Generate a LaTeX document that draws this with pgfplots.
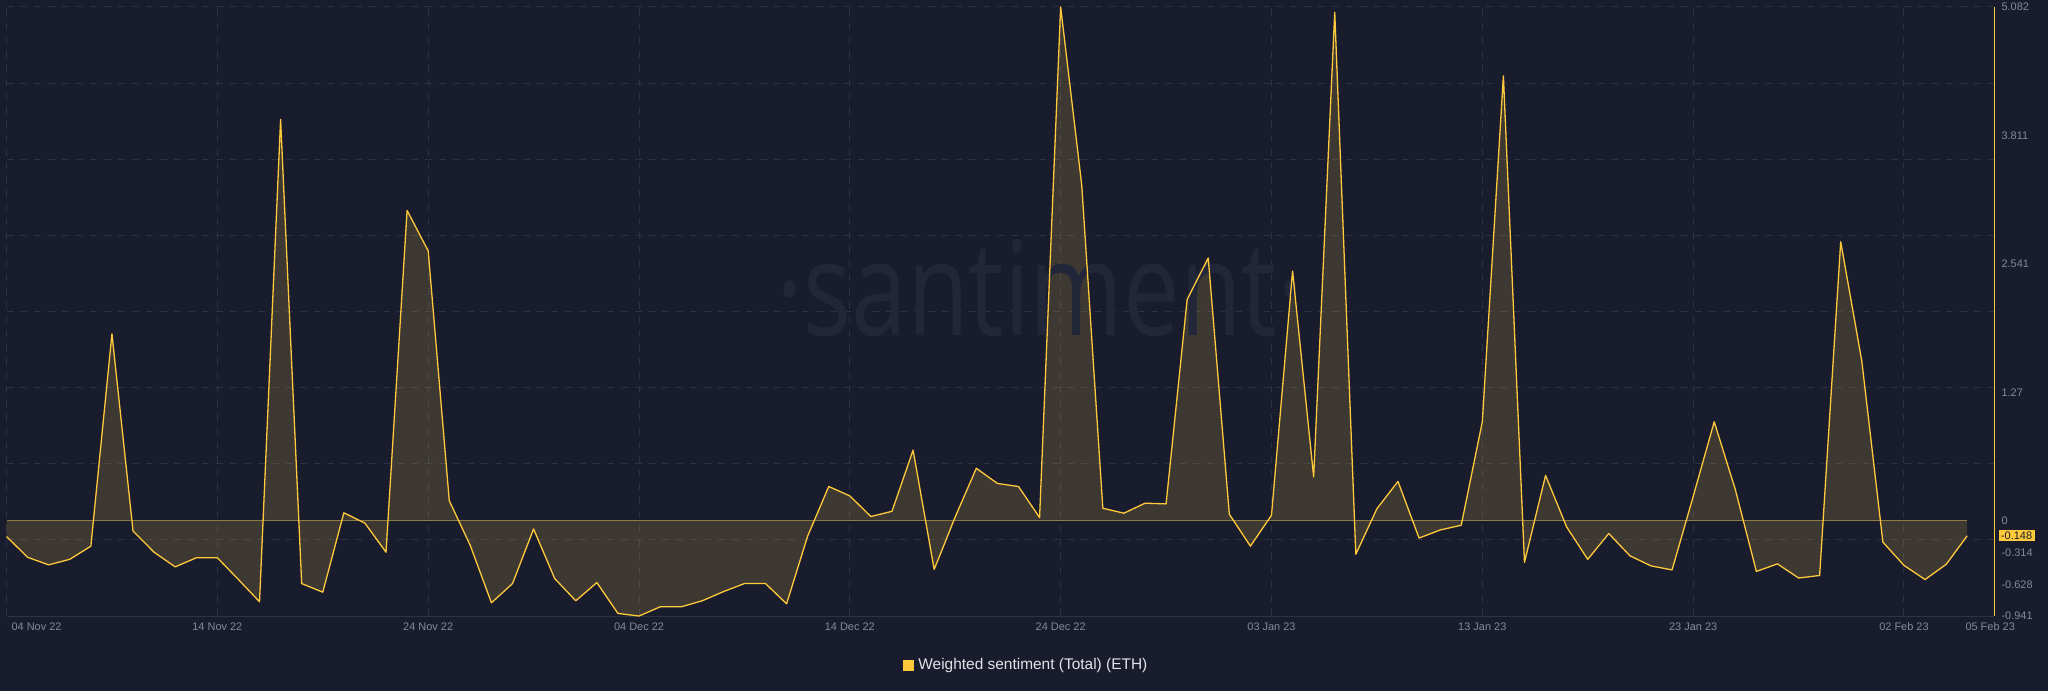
\documentclass[border=0pt]{standalone}
\usepackage{fontspec}
\setmainfont{Liberation Sans}
\newfontfamily\wmfont{Open Sans}
\usepackage{xcolor}
\usepackage{pgfplots}
\usepackage{pgfplotstable}
\pgfplotsset{compat=1.18}
\usepgfplotslibrary{fillbetween}
\definecolor{bg}{HTML}{191C2D}
\definecolor{gridc}{HTML}{2D3144}
\definecolor{axisc}{HTML}{2E3244}
\definecolor{linec}{HTML}{FFC93C}
\definecolor{fillsrc}{HTML}{FFCF4A}
\definecolor{zeroc}{HTML}{8C7B43}
\definecolor{tickc}{HTML}{858897}
\definecolor{legc}{HTML}{E2E3E8}
\definecolor{wmc}{HTML}{222639}

\pgfplotstableread{
day val
0 -0.155
1 -0.36
2 -0.435
3 -0.38
4 -0.25
5 1.85
6 -0.10
7 -0.31
8 -0.455
9 -0.365
10 -0.365
11 -0.58
12 -0.80
13 3.97
14 -0.62
15 -0.705
16 0.08
17 -0.023
18 -0.31
19 3.07
20 2.67
21 0.20
22 -0.245
23 -0.81
24 -0.62
25 -0.08
26 -0.57
27 -0.79
28 -0.61
29 -0.915
30 -0.941
31 -0.85
32 -0.85
33 -0.79
34 -0.70
35 -0.62
36 -0.62
37 -0.82
38 -0.15
39 0.34
40 0.247
41 0.043
42 0.095
43 0.70
44 -0.48
45 0.04
46 0.52
47 0.37
48 0.34
49 0.033
50 5.082
51 3.32
52 0.125
53 0.076
54 0.175
55 0.168
56 2.19
57 2.60
58 0.066
59 -0.25
60 0.056
61 2.47
62 0.435
63 5.03
64 -0.33
65 0.12
66 0.39
67 -0.17
68 -0.09
69 -0.043
70 0.98
71 4.40
72 -0.41
73 0.45
74 -0.06
75 -0.38
76 -0.125
77 -0.345
78 -0.445
79 -0.485
80 0.24
81 0.98
82 0.31
83 -0.50
84 -0.425
85 -0.565
86 -0.54
87 2.76
88 1.58
89 -0.21
90 -0.44
91 -0.58
92 -0.43
93 -0.148
}\sentiment

\begin{document}
\pagecolor{bg}
\begin{tikzpicture}
\path (0,0) rectangle (1024pt,346.5pt);
\node[anchor=base, text=wmc, inner sep=0pt] at (518.5pt,178pt)
  {\scalebox{1}[1.3]{\wmfont\fontsize{50.5}{50.5}\selectfont ·santiment·}};
\begin{axis}[
  at={(0pt,37.5pt)}, anchor=south west,
  scale only axis, width=997pt, height=305.5pt,
  xmin=0, xmax=94.28, ymin=-0.941, ymax=5.082,
  clip=false,
  axis x line*=bottom, axis y line*=right,
  x axis line style={-, draw=axisc, line width=0.5pt},
  y axis line style={-, draw=linec, line width=0.5pt},
  major tick length=0pt, minor tick length=0pt,
  xtick={0,10,...,90},
  xticklabels={{\makebox[0pt][l]{\hspace{2.5pt}04 Nov 22}},14 Nov 22,24 Nov 22,04 Dec 22,14 Dec 22,24 Dec 22,03 Jan 23,13 Jan 23,23 Jan 23,02 Feb 23},
  extra x ticks={94.09}, extra x tick labels={05 Feb 23},
  extra x tick style={grid=none},
  ytick={5.082,3.811,2.541,1.27,0,-0.314,-0.628,-0.941},
  yticklabels={5.082,3.811,2.541,1.27,0,-0.314,-0.628,-0.941},
  extra y ticks={-0.148}, extra y tick labels={-0.148},
  extra y tick style={grid=none, yticklabel style={fill=linec, text=bg, inner xsep=1.25pt, inner ysep=0.75pt, xshift=-1.5pt}},
  minor ytick={-0.941,-0.188125,0.56475,1.317625,2.0705,2.823375,3.57625,4.329125,5.082},
  xmajorgrids=true, ymajorgrids=false, yminorgrids=true,
  major grid style={gridc, dash pattern=on 3.5pt off 3.5pt, line width=0.5pt},
  minor grid style={gridc, dash pattern=on 3.5pt off 3.5pt, line width=0.5pt},
  ticklabel style={font=\fontsize{5.5}{6.5}\selectfont, text=tickc},
  xticklabel style={anchor=center, yshift=-5.5pt, inner sep=0pt},
  yticklabel pos=right,
  yticklabel style={anchor=west, inner sep=0pt, xshift=3.5pt},
  legend style={at={(axis description cs:0.5135,-0.081)}, anchor=center, draw=none, fill=none, text=legc, font=\fontsize{7.75}{9}\selectfont},
  legend image code/.code={\fill[linec] (0pt,-2.5pt) rectangle (5pt,2.5pt);},
]
\addplot[name path=data, draw=none, forget plot] table[x=day,y=val]{\sentiment};
\addplot[name path=zero, draw=none, forget plot] coordinates {(0,0) (93,0)};
\addplot[fill=fillsrc, fill opacity=0.157, draw=none, forget plot] fill between[of=data and zero];
\addplot[zeroc, line width=0.5pt, forget plot] coordinates {(0,0) (93,0)};
\addplot[linec, line width=0.65pt, line join=round] table[x=day,y=val]{\sentiment};
\addlegendentry{Weighted sentiment (Total) (ETH)}
\end{axis}
\end{tikzpicture}
\end{document}
